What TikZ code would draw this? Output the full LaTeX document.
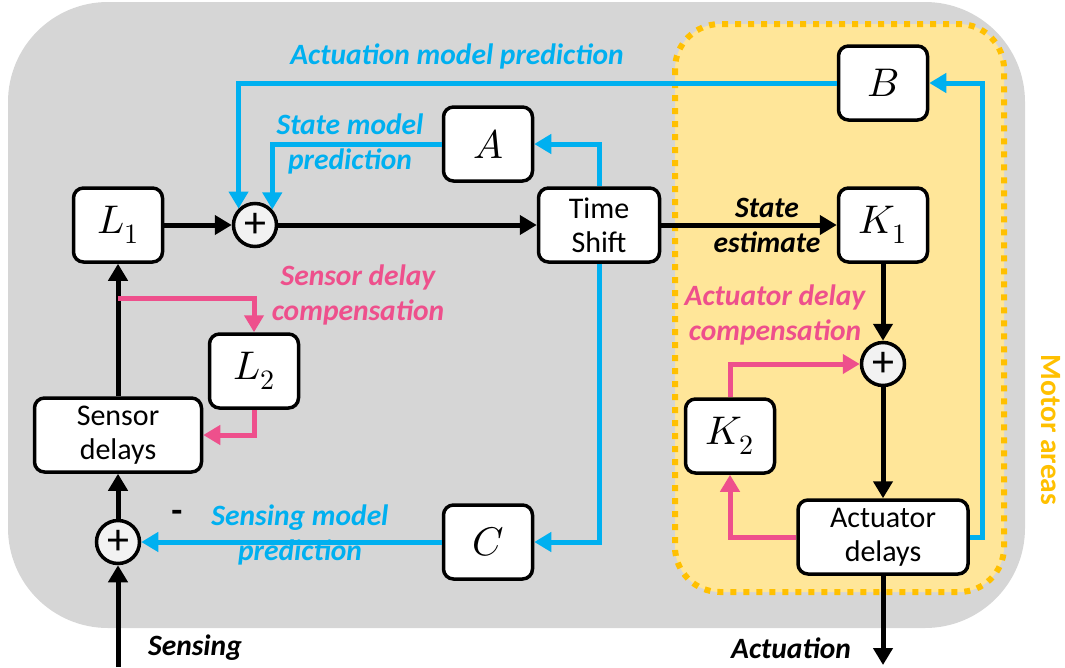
\documentclass[tikz,border=0pt]{standalone}
\usepackage{fontspec}
\setmainfont{Carlito}
\usepackage{unicode-math}
\setmathfont{Latin Modern Math}
\usetikzlibrary{arrows.meta}
\definecolor{bggray}{RGB}{214,214,214}
\definecolor{motorfill}{RGB}{255,230,153}
\definecolor{motordot}{RGB}{255,192,0}
\definecolor{cblue}{RGB}{0,176,240}
\definecolor{cpink}{RGB}{238,80,140}
\definecolor{sumfill}{RGB}{242,242,242}
\tikzset{
  box/.style={draw=black, line width=3.5pt, fill=white, rounded corners=10pt,
    minimum width=89pt, minimum height=74pt, inner sep=0pt},
  mathbox/.style={box, font=\fontsize{40}{40}\selectfont},
  textbox/.style={box, align=center, font=\fontsize{30}{34}\selectfont},
  sumnode/.style={circle, draw=black, line width=3.5pt, fill=sumfill,
    minimum size=43pt, inner sep=0pt, font=\fontsize{44}{44}\selectfont},
  conn/.style={line width=5pt, -{Triangle[length=17pt,width=19pt]}},
  blk/.style={conn, draw=black},
  blu/.style={conn, draw=cblue},
  pnk/.style={conn, draw=cpink},
  lbl/.style={font=\fontsize{29.5}{35}\selectfont\bfseries\itshape, align=center, inner sep=0pt},
}
\begin{document}
\begin{tikzpicture}[x=1pt,y=-1pt]
\useasboundingbox (0,0) rectangle (1065,667);
% backgrounds
\fill[bggray, rounded corners=100pt] (8,2) rectangle (1025,628);
\draw[motordot, fill=motorfill, line width=6pt, dash pattern=on 6pt off 7pt,
  rounded corners=45pt] (675,24) rectangle (1004,592);
\node[font=\fontsize{29.5}{29.5}\selectfont\bfseries, text=motordot, rotate=-90] (motor) at (1051,430) {Motor areas};

% nodes
\node[mathbox] (L1) at (118,225) {$L_1$};
\node[sumnode] (sum1) at (255,225) {+};
\node[mathbox] (A) at (488,144) {$A$};
\node[textbox, minimum width=121pt] (ts) at (599,225) {Time\\Shift};
\node[mathbox] (B) at (883,83) {$B$};
\node[mathbox] (K1) at (883,225) {$K_1$};
\node[sumnode] (sum2) at (883,364) {+};
\node[mathbox] (K2) at (730,436) {$K_2$};
\node[textbox, minimum width=170pt] (act) at (883,537) {Actuator\\delays};
\node[mathbox] (C) at (488,542) {$C$};
\node[mathbox] (L2) at (254,371) {$L_2$};
\node[textbox, minimum width=167pt] (sd) at (118,435) {Sensor\\delays};
\node[sumnode] (sum3) at (118,542) {+};

\coordinate (sensin) at (118,667);
\coordinate (actout) at (883,665);
\coordinate (tap) at (118,298);
\coordinate (bret) at (982,537);

% black connectors
\draw[blk] (L1.east) -- (sum1.west);
\draw[blk] (sum1.east) -- (ts.west);
\draw[blk] (ts.east) -- (K1.west);
\draw[blk] (K1.south) -- (sum2.north);
\draw[blk] (sum2.south) -- (act.north);
\draw[blk] (act.south) -- (actout);
\draw[blk] (sensin) -- (sum3.south);
\draw[blk] (sum3.north) -- (sd.south);
\draw[blk] (sd.north) -- (L1.south);

% pink connectors
\draw[pnk] (tap) -| (L2.north);
\draw[pnk] (L2.south) |- (sd.east);
\draw[pnk] (act.west) -| (K2.south);
\draw[pnk] (K2.north) |- (sum2.west);

% blue connectors
\draw[blu] (B.west) -| (sum1.135);
\draw[blu] (A.west) -| (sum1.42);
\draw[blu] (ts.north) |- (A.east);
\draw[blu] (ts.south) |- (C.east);
\draw[blu] (C.west) -- (sum3.east);
\draw[blu] (act.east) -- (bret) |- (B.east);

% labels
\node[lbl, text=cblue] (l_amp) at (457,56) {Actuation model prediction};
\node[lbl, text=cblue] (l_smp) at (350,144) {State model\\prediction};
\node[lbl, text=cpink] (l_sdc) at (358,295) {Sensor delay\\compensation};
\node[lbl, text=cblue] (l_snp) at (300,535) {Sensing model\\prediction};
\node[lbl, text=cpink] (l_adc) at (775,315) {Actuator delay\\compensation};
\node[lbl, text=black] (l_se) at (767,225) {State\\estimate};
\node[lbl, text=black] (l_sens) at (195,648) {Sensing};
\node[lbl, text=black] (l_act) at (791,648) {Actuation};
\node[font=\fontsize{36}{36}\selectfont\bfseries, inner sep=0pt] (minus) at (177,516) {-};
\end{tikzpicture}
\end{document}
